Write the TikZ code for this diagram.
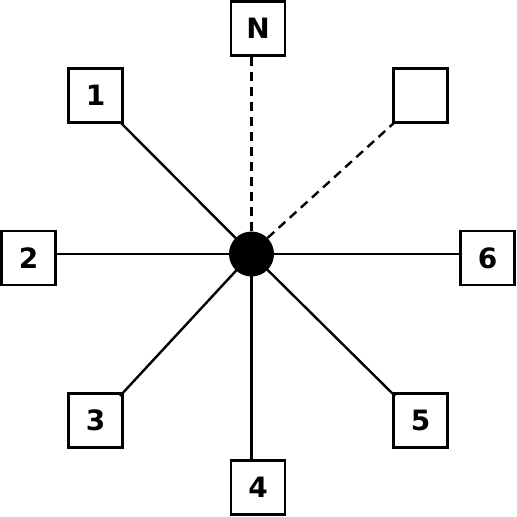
\documentclass[tikz,border=0pt]{standalone}
\usepackage{fontspec}
\setmainfont{DejaVu Sans}
\begin{document}
\begin{tikzpicture}[x=1pt,y=-1pt,
  box/.style={draw,line width=2.4pt,minimum size=54pt,inner sep=0pt,font=\fontsize{28}{32}\selectfont\bfseries},
  link/.style={line width=2.4pt},
  dlink/.style={line width=2.4pt,dash pattern=on 9pt off 6pt}]
\useasboundingbox (0,0) rectangle (517,517);
\node[box] (bN) at (258,28.5) {N};
\node[box] (b1) at (95.5,95.5) {1};
\node[box] (bE) at (420.5,95.5) {};
\node[box] (b2) at (28.5,258) {2};
\node[box] (b6) at (487.5,258) {6};
\node[box] (b3) at (95.5,420.5) {3};
\node[box] (b5) at (420.5,420.5) {5};
\node[box] (b4) at (258,487.5) {4};
\coordinate (c) at (251.5,254);
\coordinate (eN) at (251.5,57);
\coordinate (e1) at (120,122);
\coordinate (eE) at (395,122);
\coordinate (e2) at (54,254);
\coordinate (e6) at (462,254);
\coordinate (e3) at (120,396);
\coordinate (e5) at (395,396);
\coordinate (e4) at (251.5,462);
\draw[link] (c) -- (e1);
\draw[link] (c) -- (e2);
\draw[link] (c) -- (e3);
\draw[link] (c) -- (e4);
\draw[link] (c) -- (e5);
\draw[link] (c) -- (e6);
\node[circle,fill=black,minimum size=45pt,inner sep=0pt] (hub) at (c) {};
\draw[dlink] (hub.north) -- (eN);
\draw[dlink] (hub.north east) -- (eE);
\end{tikzpicture}
\end{document}
